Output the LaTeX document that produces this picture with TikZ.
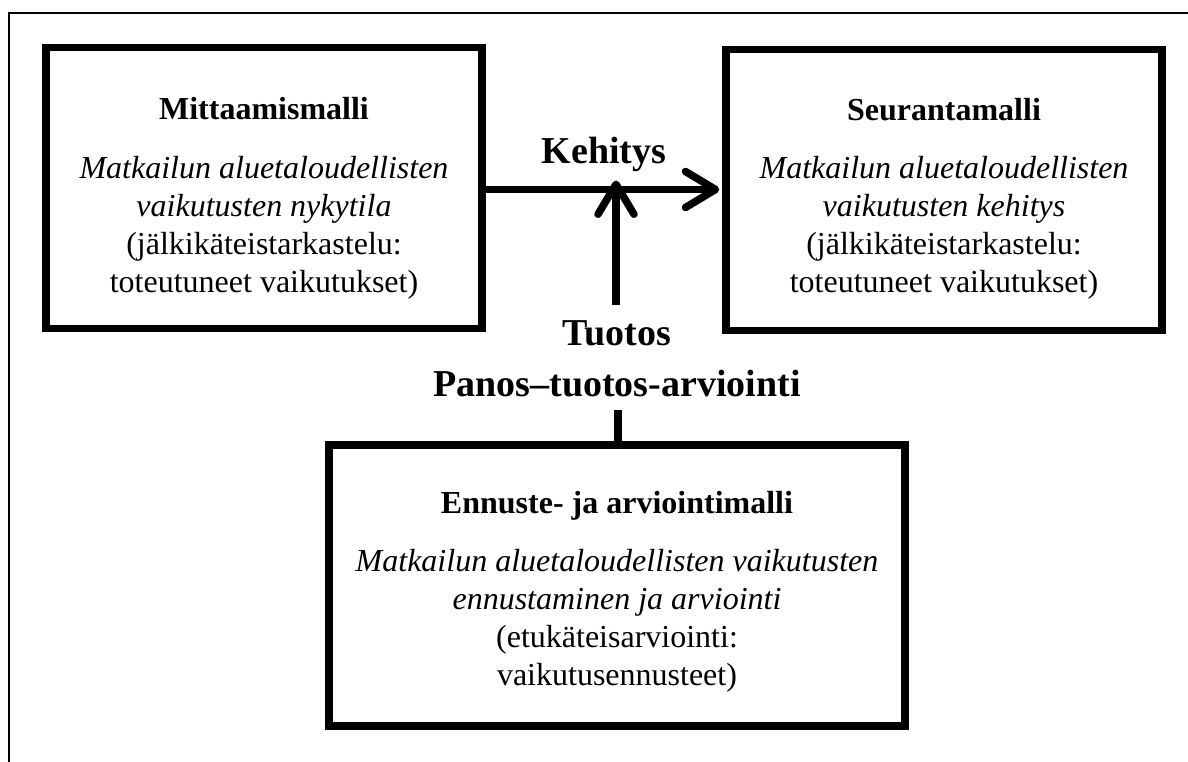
\documentclass[tikz,border=0pt]{standalone}
\usepackage{fontspec}
\setmainfont{Liberation Serif}
\usetikzlibrary{arrows.meta}
\begin{document}
\begin{tikzpicture}[x=1pt,y=-1pt,
  modelbox/.style={draw=black,line width=7.5pt,minimum width=#1,minimum height=281pt,inner sep=0pt},
  boxtitle/.style={font=\fontsize{32}{38}\selectfont\bfseries,anchor=base},
  boxtext/.style={font=\fontsize{32}{38}\selectfont,align=center,anchor=north},
  flowlabel/.style={font=\fontsize{38}{44}\selectfont\bfseries,anchor=base},
  flow/.style={line width=7.5pt,-{Straight Barb[length=30pt,width=36pt,line cap=round,line join=round]}},
  link/.style={line width=7.5pt}]
\useasboundingbox (0,0) rectangle (1188,762);
% outer frame: top and left edges only
\draw[line width=1.5pt] (8,13) -- (1188,13);
\draw[line width=2.5pt] (9,13) -- (9,762);

% the three models
\node[modelbox=436pt] (mitt) at (264,188) {};
\node[modelbox=436pt] (seur) at (944,190) {};
\node[modelbox=576pt] (enn) at (617,585.5) {};

\node[boxtitle] (mittT) at (264,120) {Mittaamismalli};
\node[boxtext] (mittB) at (264,153) {\itshape Matkailun aluetaloudellisten\\
  \itshape vaikutusten nykytila\\ (jälkikäteistarkastelu:\\ toteutuneet vaikutukset)};

\node[boxtitle] (seurT) at (944,121) {Seurantamalli};
\node[boxtext] (seurB) at (944,153) {\itshape Matkailun aluetaloudellisten\\
  \itshape vaikutusten kehitys\\ (jälkikäteistarkastelu:\\ toteutuneet vaikutukset)};

\node[boxtitle] (ennT) at (617,513) {Ennuste- ja arviointimalli};
\node[boxtext] (ennB) at (617,546) {\itshape Matkailun aluetaloudellisten vaikutusten\\
  \itshape ennustaminen ja arviointi\\ (etukäteisarviointi:\\ vaikutusennusteet)};

% connector labels
\node[flowlabel] (keh) at (604,164) {Kehitys};
\node[flowlabel] (tuo) at (617,345) {Tuotos};
\node[flowlabel] (pan) at (617,396) {Panos–tuotos-arviointi};

% connectors
\coordinate (hjoin) at (616,189.5);
\coordinate (vstart) at (616,305);
\coordinate (lstart) at (618,410);
\draw[flow] (mitt.east |- hjoin) -- ([xshift=-3pt]seur.west |- hjoin);
\draw[flow] (vstart) -- ([yshift=9pt]hjoin);
\draw[link] (enn.north -| lstart) -- (lstart);
\end{tikzpicture}
\end{document}
